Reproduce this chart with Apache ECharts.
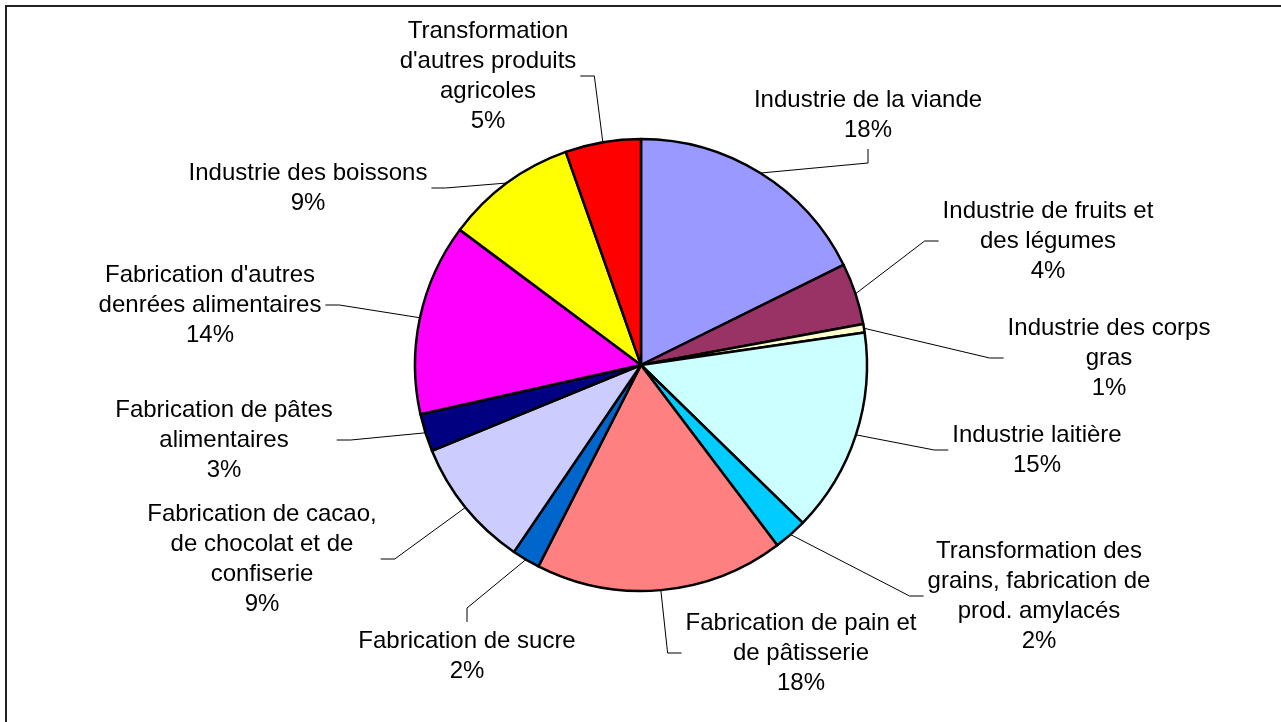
<!DOCTYPE html>
<html>
<head>
<meta charset="utf-8">
<title>Pie chart</title>
<script src="https://cdn.jsdelivr.net/npm/echarts@6/dist/echarts.min.js"></script>
<style>
  html, body { margin: 0; padding: 0; background: #fff; }
  #chart { width: 1281px; height: 722px; }
</style>
</head>
<body>
<div id="chart"></div>
<script>
// slices, clockwise from 12 o'clock
var categories = [
  'Industrie de la viande',
  'Industrie de fruits et\ndes légumes',
  'Industrie des corps\ngras',
  'Industrie laitière',
  'Transformation des\ngrains, fabrication de\nprod. amylacés',
  'Fabrication de pain et\nde pâtisserie',
  'Fabrication de sucre',
  'Fabrication de cacao,\nde chocolat et de\nconfiserie',
  'Fabrication de pâtes\nalimentaires',
  "Fabrication d'autres\ndenrées alimentaires",
  'Industrie des boissons',
  "Transformation\nd'autres produits\nagricoles"
]
var values = [17.7, 4.4, 0.6, 14.6, 2.4, 17.8, 2.0, 9.3, 2.7, 13.7, 9.4, 5.4]
var colors = [
  '#9999FF', '#993366', '#FFFFCC', '#CCFFFF', '#00CCFF', '#FF8080',
  '#0066CC', '#CCCCFF', '#000080', '#FF00FF', '#FFFF00', '#FF0000'
]

// label placement (centre of the text block) and which side the leader line meets
var labelX = [868, 1048, 1109, 1037, 1039, 801, 467, 262, 224, 210, 308, 488]
var labelY = [115, 241, 358, 450, 596, 653, 656, 559, 440, 305, 188, 76]
var labelSide = ['bottom', 'left', 'left', 'left', 'left', 'left', 'top', 'right', 'right', 'right', 'right', 'right']

var myChart = echarts.init(document.getElementById('chart'))

function placeLabel(params) {
  var i = params.dataIndex
  var x = labelX[i]
  var y = labelY[i]
  var w = params.labelRect.width
  var h = params.labelRect.height
  var gap = 4
  var stub = 14
  var a, b
  if (labelSide[i] === 'left') {
    a = [x - w / 2 - gap, y]
    b = [a[0] - stub, y]
  } else if (labelSide[i] === 'right') {
    a = [x + w / 2 + gap, y]
    b = [a[0] + stub, y]
  } else if (labelSide[i] === 'top') {
    a = [x, y - h / 2 - gap]
    b = [x, a[1] - stub]
  } else {
    a = [x, y + h / 2 + gap]
    b = [x, a[1] + stub]
  }
  // first point: on the arc at the middle of the slice (from the library layout)
  var p0 = params.labelLinePoints[0]
  return {
    x: x,
    y: y,
    align: 'center',
    verticalAlign: 'middle',
    labelLinePoints: [p0, b, a]
  }
}

var option = {
  backgroundColor: '#fff',
  animation: false,
  color: colors,
  graphic: [
    {
      type: 'rect',
      shape: { x: 6, y: 6, width: 1400, height: 900 },
      style: { fill: null, stroke: '#222', lineWidth: 2 },
      silent: true
    }
  ],
  series: [
    {
      type: 'pie',
      center: [641, 365],
      radius: 226,
      startAngle: 90,
      clockwise: true,
      avoidLabelOverlap: false,
      itemStyle: {
        borderColor: '#000',
        borderWidth: 2.5
      },
      label: {
        show: true,
        position: 'outside',
        color: '#000',
        fontFamily: 'Liberation Sans, Arial, sans-serif',
        fontSize: 24,
        lineHeight: 30,
        formatter: function (p) {
          return p.name + '\n' + Math.round(p.percent) + '%'
        }
      },
      labelLine: {
        show: true,
        length: 10,
        length2: 10,
        minTurnAngle: 0,
        lineStyle: { color: '#000', width: 1 }
      },
      labelLayout: placeLabel,
      emphasis: { scale: false },
      data: categories.map(function (name, i) {
        return { name: name, value: values[i] }
      })
    }
  ]
}

myChart.setOption(option)
</script>
</body>
</html>
